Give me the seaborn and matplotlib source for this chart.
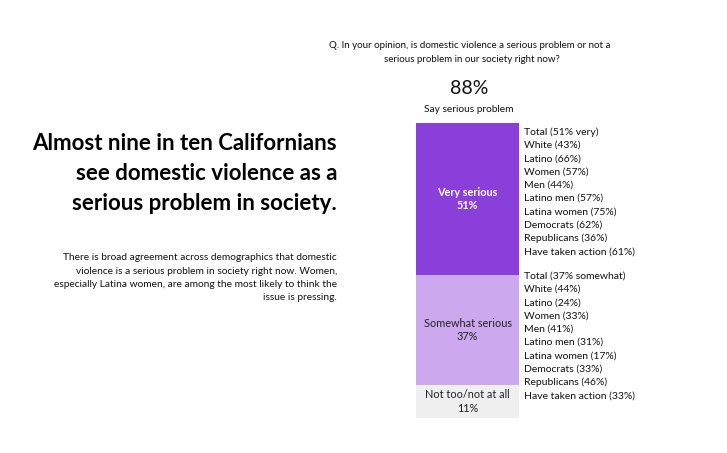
import matplotlib
matplotlib.use("Agg")
import matplotlib.pyplot as plt
import seaborn as sns
import pandas as pd

sns.set_theme(style="white")
plt.rcParams['font.family'] = ['Lato', 'DejaVu Sans']

categories = ["Very serious", "Somewhat serious", "Not too/not at all"]
values = [51, 37, 11]
colors = ["#8A3FDB", "#CCA9EF", "#EFEFEF"]
text_colors = ["white", "#222222", "#222222"]

very_labels = ["Total (51% very)", "White (43%)", "Latino (66%)", "Women (57%)", "Men (44%)",
               "Latino men (57%)", "Latina women (75%)", "Democrats (62%)", "Republicans (36%)",
               "Have taken action (61%)"]
somewhat_labels = ["Total (37% somewhat)", "White (44%)", "Latino (24%)", "Women (33%)", "Men (41%)",
                   "Latino men (31%)", "Latina women (17%)", "Democrats (33%)", "Republicans (46%)",
                   "Have taken action (33%)"]

W, H = 727, 453
fig = plt.figure(figsize=(W / 100, H / 100), dpi=100)
fig.patch.set_facecolor("white")

ax = fig.add_axes([416 / W, 1 - 418 / H, 103 / W, 295 / H])
cum = []
s = 0
for v in values:
    s += v
    cum.append(s)

# draw cumulative bars from largest to smallest so segments stack top-down
for i in reversed(range(len(values))):
    df = pd.DataFrame({"x": ["bar"], "y": [cum[i]]})
    sns.barplot(data=df, x="x", y="y", color=colors[i], width=1.0, saturation=1,
                linewidth=0, edgecolor="none", ax=ax)
ax.set_ylim(sum(values), 0)
ax.set_xlim(-0.5, 0.5)
ax.axis("off")

start = 0
for i, (c, v) in enumerate(zip(categories, values)):
    mid = start + v / 2
    ax.text(0, mid, f"{c}\n{v}%", ha="center", va="center", color=text_colors[i],
            fontsize=7.8, linespacing=1.3,
            fontweight="bold" if i == 0 else "normal")
    start += v

def px(x, y):
    return x / W, 1 - y / H

# right-hand labels
for j, lab in enumerate(very_labels):
    fig.text(*px(524, 132 + j * 13.3), lab, ha="left", va="center", fontsize=7.5, color="#111111")
for j, lab in enumerate(somewhat_labels):
    fig.text(*px(524, 276 + j * 13.3), lab, ha="left", va="center", fontsize=7.5, color="#111111")

# question
fig.text(*px(470, 46), "Q. In your opinion, is domestic violence a serious problem or not a",
         ha="center", va="center", fontsize=7, color="#111111")
fig.text(*px(472, 60), "serious problem in our society right now?",
         ha="center", va="center", fontsize=7, color="#111111")
fig.text(*px(469, 89), "88%", ha="center", va="center", fontsize=14, color="#111111")
fig.text(*px(469, 110), "Say serious problem", ha="center", va="center", fontsize=7.3, color="#111111")

# title
for k, line in enumerate(["Almost nine in ten Californians", "see domestic violence as a",
                          "serious problem in society."]):
    fig.text(*px(337, 143 + k * 30), line, ha="right", va="center", fontsize=16,
             fontweight="bold", color="#000000")

for k, line in enumerate(["There is broad agreement across demographics that domestic",
                          "violence is a serious problem in society right now. Women,",
                          "especially Latina women, are among the most likely to think the",
                          "issue is pressing."]):
    fig.text(*px(337, 258 + k * 13.3), line, ha="right", va="center", fontsize=7.25, color="#111111")

fig.savefig("out.png", dpi=100, facecolor="white")
